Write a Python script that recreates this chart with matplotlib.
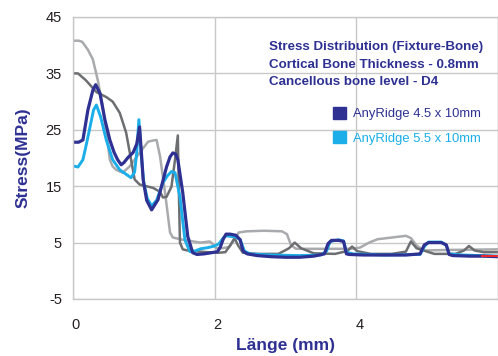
import matplotlib
matplotlib.use("Agg")
import matplotlib.pyplot as plt
from matplotlib.patches import Patch
import matplotlib.transforms as mtransforms

plt.rcParams['font.family'] = ['Liberation Sans', 'DejaVu Sans']
plt.rcParams['axes.unicode_minus'] = False

# colours
c_db = '#2E3192'
c_lb = '#1BAEE9'
c_dg = '#6D6E71'
c_lg = '#A9AAAD'
c_red = '#E8262B'

# AnyRidge 4.5 x 10mm (dark blue)
x_db = [0, 0.08, 0.14, 0.21, 0.28, 0.32, 0.38, 0.45, 0.52, 0.58, 0.63, 0.68, 0.72, 0.77, 0.85,
        0.9, 0.94, 0.96, 0.99, 1.04, 1.11, 1.2, 1.26, 1.32, 1.37, 1.41, 1.45, 1.48, 1.55, 1.62,
        1.69, 1.75, 1.85, 1.95, 2.04, 2.08, 2.12, 2.16, 2.22, 2.3, 2.36, 2.4, 2.46, 2.6, 2.8,
        3.0, 3.2, 3.4, 3.55, 3.6, 3.65, 3.75, 3.82, 3.86, 3.9, 4.1, 4.4, 4.7, 4.9, 4.96, 5.02,
        5.2, 5.27, 5.31, 5.36, 5.6, 5.8, 6.0]
y_db = [22.8, 22.8, 23.2, 28.5, 32, 33, 31.5, 26.8, 23.2, 21, 19.7, 18.8, 19.2, 20, 21,
        22.5, 25.5, 22, 16.2, 12.5, 10.8, 12.6, 15.5, 18.4, 20.2, 20.9, 20.7, 19.7, 13.8, 6.1,
        3.2, 2.9, 3.0, 3.2, 3.4, 4.2, 5.6, 6.5, 6.5, 6.3, 5.5, 3.5, 3.0, 2.7, 2.5,
        2.4, 2.4, 2.6, 3.0, 4.8, 5.4, 5.4, 5.2, 3.0, 2.9, 2.8, 2.8, 2.8, 3.0, 4.6, 5.0,
        5.0, 4.6, 2.9, 2.7, 2.6, 2.6, 2.5]

# AnyRidge 5.5 x 10mm (light blue)
x_lb = [0, 0.07, 0.14, 0.19, 0.24, 0.29, 0.33, 0.39, 0.47, 0.56, 0.66, 0.74, 0.82, 0.87, 0.9,
        0.93, 0.96, 1.0, 1.05, 1.11, 1.18, 1.27, 1.33, 1.39, 1.44, 1.51, 1.58, 1.65, 1.72, 1.8,
        1.9, 2.0, 2.06, 2.12, 2.16, 2.3, 2.36, 2.42, 2.5, 2.8, 3.2, 3.5, 3.58, 3.63, 3.75, 3.82,
        3.86, 3.95, 4.4, 4.9, 4.96, 5.02, 5.2, 5.27, 5.31, 5.5, 6.0]
y_lb = [18.6, 18.4, 19.7, 22.5, 25.5, 28.5, 29.4, 27.3, 23.2, 19.7, 17.9, 17.2, 16.5, 17.5, 21,
        26.8, 21, 15.5, 12.8, 11.5, 12.5, 15.6, 16.8, 17.6, 17.4, 13.1, 5.5, 3.4, 3.5, 3.9,
        4.1, 4.4, 4.8, 5.8, 6.2, 6.0, 5.5, 3.5, 3.0, 2.8, 2.7, 2.8, 3.5, 5.2, 5.5, 5.3,
        3.3, 3.0, 2.8, 2.9, 4.3, 5.1, 5.1, 4.5, 3.0, 2.8, 2.6]

# dark grey series
x_dg = [0, 0.07, 0.18, 0.33, 0.47, 0.56, 0.66, 0.75, 0.82, 0.87, 0.94, 1.13, 1.23, 1.27, 1.32,
        1.39, 1.44, 1.48, 1.49, 1.51, 1.55, 1.62, 1.7, 1.9, 2.05, 2.15, 2.22, 2.28, 2.33, 2.4,
        2.6, 2.9, 3.05, 3.13, 3.22, 3.4, 3.7, 3.87, 3.94, 4.01, 4.2, 4.5, 4.7, 4.77, 4.85, 5.1,
        5.4, 5.52, 5.59, 5.67, 5.8, 6.0]
y_dg = [35, 35, 33.8, 31.7, 30.8, 30, 28, 24.5, 19.7, 16.2, 15.3, 14.7, 14, 13, 13.1,
        14.9, 19.7, 24, 16.7, 5, 3.8, 3.6, 3.5, 3.3, 3.2, 3.3, 4.5, 5.8, 4.5, 3.2,
        3.0, 3.0, 4.0, 5.0, 4.0, 3.1, 3.0, 3.5, 4.3, 3.5, 3.0, 3.0, 3.4, 5.2, 4.0, 3.0,
        3.0, 3.6, 4.4, 3.6, 3.3, 3.3]

# light grey series
x_lg = [0, 0.08, 0.13, 0.21, 0.28, 0.35, 0.42, 0.47, 0.52, 0.56, 0.61, 0.7, 0.8, 0.94, 1.06,
        1.13, 1.18, 1.23, 1.3, 1.37, 1.41, 1.55, 1.8, 1.93, 1.97, 2.02, 2.1, 2.2, 2.28, 2.34,
        2.45, 2.7, 2.95, 3.02, 3.08, 3.15, 3.5, 3.9, 4.05, 4.18, 4.3, 4.5, 4.7, 4.77, 4.85, 4.95,
        5.3, 6.0]
y_lg = [40.8, 40.8, 40.6, 39.2, 37.5, 33.8, 29.1, 24.5, 19.7, 18.5, 17.9, 17.4, 18.5, 20.9, 22.9,
        23.1, 23.2, 20.2, 13.8, 6.8, 5.9, 5.5, 5.0, 5.2, 4.8, 4.0, 4.0, 4.2, 5.5, 6.8,
        7.0, 7.1, 7.0, 6.5, 4.5, 3.9, 3.9, 3.9, 4.1, 5.0, 5.6, 5.9, 6.2, 5.8, 4.5, 3.6,
        3.7, 3.8]

# small red segment at the end
x_red = [5.77, 6.0]
y_red = [2.6, 2.6]

x_ticks = [0, 2, 4, 6]
y_ticks = [-5, 5, 15, 25, 35, 45]

title_lines = ['Stress Distribution (Fixture-Bone)',
               'Cortical Bone Thickness - 0.8mm',
               'Cancellous bone level - D4']
legend_labels = ['AnyRidge 4.5 x 10mm', 'AnyRidge 5.5 x 10mm']

W, H = 498, 356
fig = plt.figure(figsize=(W / 100, H / 100), dpi=100)
ax = fig.add_axes([73 / W, 1 - 299 / H, (W - 73) / W, (299 - 17) / H])

ax.plot(x_lg, y_lg, color=c_lg, lw=1.8, solid_joinstyle='round')
ax.plot(x_dg, y_dg, color=c_dg, lw=1.8, solid_joinstyle='round')
ax.plot(x_lb, y_lb, color=c_lb, lw=2.1, solid_joinstyle='round')
ax.plot(x_db, y_db, color=c_db, lw=2.3, solid_joinstyle='round')
ax.plot(x_red, y_red, color=c_red, lw=1.5)

ax.set_xlim(0, 6)
ax.set_ylim(-5, 45)
ax.set_xticks(x_ticks)
ax.set_yticks(y_ticks)
ax.grid(True, color='#C8C8C8', lw=1.0)
ax.set_axisbelow(True)
for s in ax.spines.values():
    s.set_color('#C8C8C8')
    s.set_linewidth(1.0)
ax.tick_params(length=0, labelsize=10.5, labelcolor='#231F20')
ax.tick_params(axis='x', pad=14)
ax.tick_params(axis='y', pad=8)
offset = mtransforms.ScaledTranslation(3 / 100, 0, fig.dpi_scale_trans)
for lab in ax.get_xticklabels():
    lab.set_transform(lab.get_transform() + offset)

ax.set_xlabel('Länge (mm)', fontsize=12.5, fontweight='bold', color=c_db, va='center')
ax.xaxis.set_label_coords(0.5, -(345.5 - 299) / 282)
ax.set_ylabel('Stress(MPa)', fontsize=12.5, fontweight='bold', color=c_db, va='center')
ax.yaxis.set_label_coords(-(73 - 23) / 425, 0.5)

for i, t in enumerate(title_lines):
    fig.text(269 / W, 1 - (47 + 17.5 * i) / H, t, fontsize=9.6, fontweight='bold',
             color=c_db, va='center', ha='left')

handles = [Patch(color=c_db), Patch(color=c_lb)]
leg = ax.legend(handles, legend_labels, loc='upper left', frameon=False,
                bbox_to_anchor=(333 / W, 1 - 107 / H), bbox_transform=fig.transFigure,
                fontsize=9.4, handlelength=1.0, handleheight=1.0, handletextpad=0.55,
                labelspacing=0.85, borderpad=0, borderaxespad=0)
for txt, c in zip(leg.get_texts(), [c_db, c_lb]):
    txt.set_color(c)

fig.savefig('out.png', dpi=100)
